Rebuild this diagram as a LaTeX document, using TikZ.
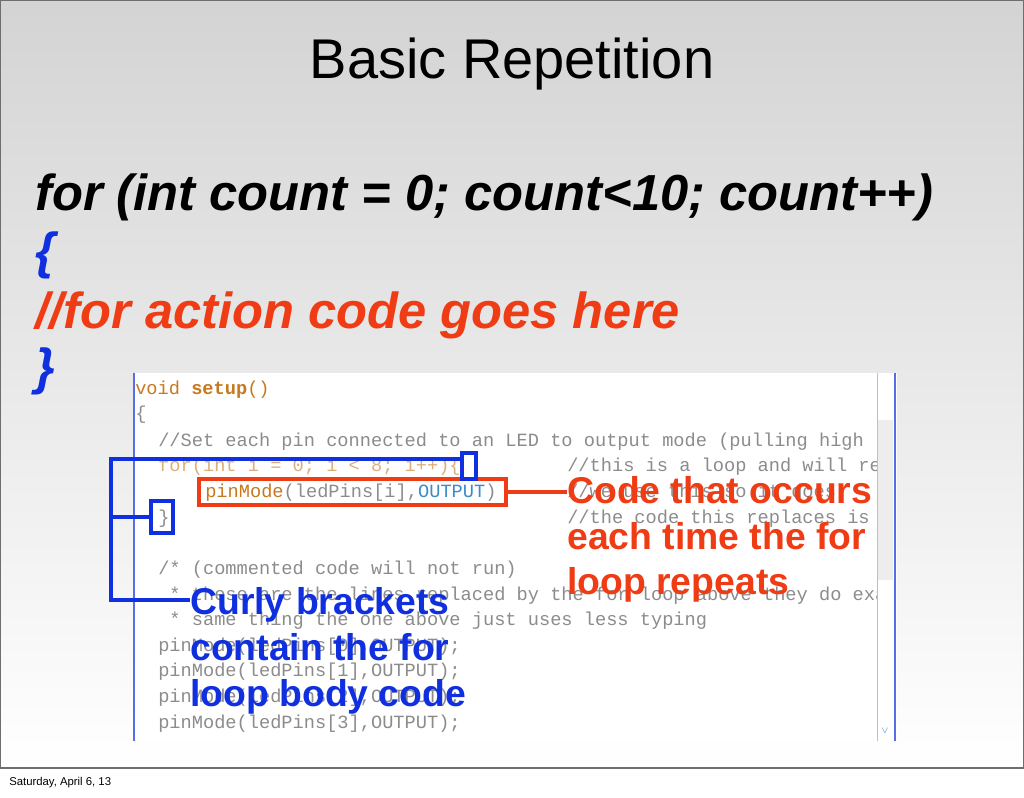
\documentclass[tikz,border=0pt]{standalone}
\usepackage{fontspec}
\setmainfont{Liberation Sans}
\setmonofont{Liberation Mono}
\usetikzlibrary{positioning}
\definecolor{slidered}{HTML}{F03C14}
\definecolor{slideblue}{HTML}{1030E0}
\definecolor{codegray}{HTML}{8C8C8C}
\definecolor{codeorange}{HTML}{C8781E}
\definecolor{codeblue}{HTML}{3C8CC8}
\definecolor{framegray}{HTML}{6E6E6E}
\tikzset{
  codeline/.style = {anchor=base west, inner sep=0pt, text=codegray, font=\ttfamily\fontsize{14}{14}\selectfont},
  bigcode/.style = {anchor=base west, inner sep=0pt, font=\bfseries\itshape\fontsize{38}{38}\selectfont},
  callout/.style = {anchor=base west, inner sep=0pt, font=\bfseries\fontsize{28}{28}\selectfont},
  markbox/.style = {draw, line width=3pt, inner sep=0pt},
}
\begin{document}
\begin{tikzpicture}[x=0.75pt, y=-0.75pt]
  \useasboundingbox (0,0) rectangle (1024,797);
  % slide background
  \shade[top color=black!17, bottom color=white] (0,0) rectangle (1024,768);
  \fill[white] (0,768) rectangle (1024,797);
  \draw[framegray, line width=0.8pt] (0.5,0.5) rectangle (1023.5,768);
  \node[anchor=base west, inner sep=0pt, font=\fontsize{8.5}{8.5}\selectfont] (date) at (9,785) {Saturday, April 6, 13};
  % title and loop
  \node[anchor=base, inner sep=0pt, font=\fontsize{42}{42}\selectfont] (title) at (512,78) {Basic Repetition};
  \node[bigcode] (forline) at (35,210) {for (int count = 0; count<10; count++)};
  \node[bigcode, text=slideblue] (open) at (35,268) {\{};
  \node[bigcode, text=slidered] (body) at (35,328) {//for action code goes here};
  \node[bigcode, text=slideblue] (close) at (35,384) {\}};
  % screenshot of the editor
  \fill[white] (133,373) rectangle (897,741);
  \fill[black!7] (878,420) rectangle (893,580);
  \draw[black!25] (877,373) -- (877,741);
  \node[anchor=center, inner sep=0pt, text=codeblue, font=\fontsize{7}{7}\selectfont] (scroll) at (885,731) {$\vee$};
  \draw[slideblue!70, line width=1.5pt] (134,373) -- (134,741);
  \draw[slideblue!70, line width=1.5pt] (895,373) -- (895,741);
  \begin{scope}
    \clip (136,373) rectangle (876,741);
    \node[codeline, text=codeorange] (l1) at (135,394) {void \textbf{setup}()};
    \node[codeline] (l2) at (135,419) {\{};
    \node[codeline] (l3) at (158,446) {//Set each pin connected to an LED to output mode (pulling high};
    \node[codeline, text=codeorange!60] (l4) at (158,471) {for(int i = 0; i < 8; i++)\{};
    \node[codeline] (l4c) at (567,471) {//this is a loop and will repeat};
    \node[codeline] (l5) at (205,497) {\textcolor{codeorange}{pinMode}(ledPins[i],\textcolor{codeblue}{OUTPUT})};
    \node[codeline] (l5c) at (567,497) {//we use this so it does};
    \node[codeline] (l6) at (158,523) {\}};
    \node[codeline] (l6c) at (567,523) {//the code this replaces is};
    \node[codeline] (l7) at (158,574) {/* (commented code will not run)};
    \node[codeline] (l8) at (158,600) {\ * these are the lines replaced by the for loop above they do exactly};
    \node[codeline] (l9) at (158,625) {\ * same thing the one above just uses less typing};
    \node[codeline] (l10) at (158,651) {pinMode(ledPins[0],OUTPUT);};
    \node[codeline] (l11) at (158,676) {pinMode(ledPins[1],OUTPUT);};
    \node[codeline] (l12) at (158,702) {pinMode(ledPins[2],OUTPUT);};
    \node[codeline] (l13) at (158,728) {pinMode(ledPins[3],OUTPUT);};
  \end{scope}
  % red callout
  \node[markbox, draw=slidered, minimum width=230pt, minimum height=20pt, anchor=west] (bodybox) at (197,492) {};
  \node[callout, text=slidered] (occurs1) at (567,503) {Code that occurs};
  \node[callout, text=slidered] (occurs2) at (567,549) {each time the for};
  \node[callout, text=slidered] (occurs3) at (567,594) {loop repeats};
  \draw[slidered, line width=3pt] (bodybox.east) -- (bodybox.east -| occurs1.west);
  % blue callout
  \node[markbox, draw=slideblue, minimum width=10pt, minimum height=20pt] (openbox) at (469,466) {};
  \node[markbox, draw=slideblue, minimum width=16pt, minimum height=24pt] (closebox) at (162,517) {};
  \node[callout, text=slideblue] (curly1) at (190,614) {Curly brackets};
  \node[callout, text=slideblue] (curly2) at (190,660) {contain the for};
  \node[callout, text=slideblue] (curly3) at (190,706) {loop body code};
  \coordinate (brtop) at (111,459);
  \coordinate (brbot) at (111,600);
  \draw[slideblue, line width=3pt] (openbox.north west |- brtop) -- (brtop) -- (brbot) -- (brbot -| curly1.west);
  \draw[slideblue, line width=3pt] (brtop |- closebox.west) -- (closebox.west);
\end{tikzpicture}
\end{document}
